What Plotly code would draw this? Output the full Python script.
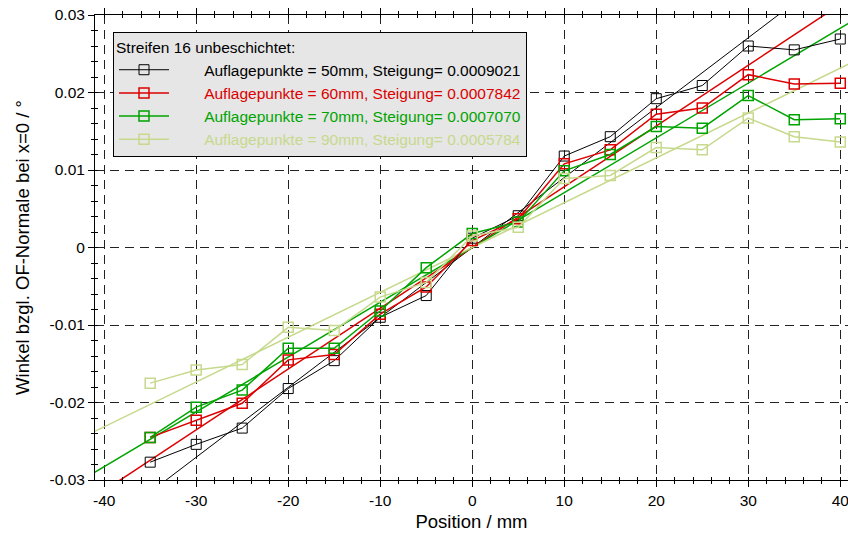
import plotly.graph_objects as go

positions = [-35, -30, -25, -20, -15, -10, -5, 0, 5, 10, 15, 20, 25, 30, 35, 40]

series_names = [
    "Auflagepunkte = 50mm, Steigung= 0.0009021",
    "Auflagepunkte = 60mm, Steigung= 0.0007842",
    "Auflagepunkte = 70mm, Steigung= 0.0007070",
    "Auflagepunkte = 90mm, Steigung= 0.0005784",
]
slopes = [0.0009021, 0.0007842, 0.0007070, 0.0005784]

winkel_50 = [-0.0277, -0.0254, -0.0233, -0.0182, -0.0146, -0.0090, -0.0062, 0.0012,
             0.0041, 0.0118, 0.0143, 0.0192, 0.0209, 0.0260, 0.0255, 0.0269]
winkel_60 = [-0.0245, -0.0223, -0.0201, -0.0145, -0.0138, -0.0086, -0.0051, 0.0009,
             0.0037, 0.0108, 0.0126, 0.0172, 0.0180, 0.0223, 0.0211, 0.0212]
winkel_70 = [-0.0245, -0.0206, -0.0184, -0.0130, -0.0130, -0.0082, -0.0026, 0.0018,
             0.0033, 0.0099, 0.0120, 0.0156, 0.0154, 0.0196, 0.0165, 0.0166]
winkel_90 = [-0.0175, -0.0158, -0.0151, -0.0103, -0.0107, -0.0064, -0.0045, 0.0015,
             0.0026, 0.0089, 0.0093, 0.0129, 0.0126, 0.0167, 0.0143, 0.0136]

x_tickvals = [-40, -30, -20, -10, 0, 10, 20, 30, 40]
x_ticktext = ["-40", "-30", "-20", "-10", "0", "10", "20", "30", "40"]
y_tickvals = [-0.03, -0.02, -0.01, 0, 0.01, 0.02, 0.03]
y_ticktext = ["-0.03", "-0.02", "-0.01", "0", "0.01", "0.02", "0.03"]

x_range = [-41.0, 40.84]
y_range = [-0.03, 0.03]

colors = ["#000000", "#dc0000", "#00a400", "#c6d98c"]
widths = [1.0, 1.5, 1.5, 1.5]
data = [winkel_50, winkel_60, winkel_70, winkel_90]

FONT = "Liberation Sans, Arial, sans-serif"
PAD = "\u00a0" * 7

fig = go.Figure()

# fit lines (through origin)
for s, c, w in zip(slopes, colors, widths):
    fx = [x_range[0] - 1, x_range[1] + 1]
    fig.add_trace(go.Scatter(x=fx, y=[s * v for v in fx], mode="lines",
                             line=dict(color=c, width=w), showlegend=False,
                             hoverinfo="skip"))

for name, ys, c, w in zip(series_names, data, colors, widths):
    fig.add_trace(go.Scatter(
        x=positions, y=ys, mode="lines+markers",
        name=f"{PAD}<span style='color:{c}'>{name}</span>",
        line=dict(color=c, width=w),
        marker=dict(symbol="square-open", size=10, color=c, line=dict(width=w, color=c)),
    ))

# invisible trace to anchor overlay axes (inside minor ticks)
fig.add_trace(go.Scatter(x=[0], y=[0], xaxis="x2", yaxis="y2", mode="markers",
                         marker=dict(opacity=0), showlegend=False, hoverinfo="skip"))

axis_common = dict(
    showline=True, linecolor="black", linewidth=1,
    ticks="outside", ticklen=6, tickcolor="black", tickwidth=1,
    showgrid=True, gridcolor="#222222", gridwidth=1, griddash="9px,6px",
    zeroline=False,
    tickfont=dict(family=FONT, size=15.5, color="black"),
)

fig.update_layout(
    xaxis=dict(
        range=x_range, tickmode="array", tickvals=x_tickvals, ticktext=x_ticktext,
        mirror="ticks", ticklabeloverflow="allow",
        minor=dict(dtick=2, ticks="outside", ticklen=3, tickcolor="black", showgrid=False),
        title=dict(text="Position / mm", font=dict(family=FONT, size=18.5, color="black"), standoff=7),
        **axis_common,
    ),
    yaxis=dict(
        range=y_range, tickmode="array", tickvals=y_tickvals, ticktext=y_ticktext,
        mirror=False,
        minor=dict(dtick=0.002, ticks="outside", ticklen=3, tickcolor="black", showgrid=False),
        title=dict(text="Winkel bzgl. OF-Normale bei x=0 / °", font=dict(family=FONT, size=18.5, color="black"), standoff=15),
        **axis_common,
    ),
    xaxis2=dict(
        range=x_range, overlaying="x", anchor="y2", side="bottom",
        showline=False, showgrid=False, zeroline=False, showticklabels=False,
        ticks="inside", ticklen=3, tickcolor="black", tickmode="linear", tick0=-40, dtick=2,
        mirror="ticks",
    ),
    yaxis2=dict(
        range=y_range, overlaying="y", anchor="x2", side="left",
        showline=False, showgrid=False, zeroline=False, showticklabels=False,
        ticks="inside", ticklen=3, tickcolor="black", tickmode="linear", tick0=-0.03, dtick=0.002,
    ),
    width=848, height=533,
    margin=dict(l=95, r=0, t=15, b=53),
    plot_bgcolor="white", paper_bgcolor="white",
    showlegend=True,
    legend=dict(
        x=(113 - 95) / 753, y=(480 - 32) / 465, xanchor="left", yanchor="top",
        bgcolor="#e6e6e6", bordercolor="black", borderwidth=1,
        font=dict(family=FONT, size=15.5, color="black"),
        title=dict(text="Streifen 16 unbeschichtet:", font=dict(family=FONT, size=15.5, color="black")),
        itemwidth=50,
        tracegroupgap=0,
    ),
    font=dict(family=FONT),
)

fig.write_html("out.html")
